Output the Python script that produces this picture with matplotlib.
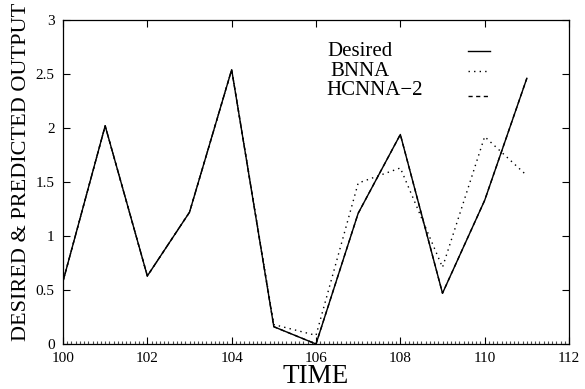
import matplotlib
matplotlib.use("Agg")
import matplotlib.pyplot as plt
import numpy as np
from matplotlib.ticker import MultipleLocator

plt.rcParams['font.family'] = ['Liberation Serif', 'DejaVu Serif']

time = [100, 101, 102, 103, 104, 105, 106, 107, 108, 109, 110, 111]
desired = [0.58, 2.02, 0.63, 1.22, 2.54, 0.16, 0.0, 1.21, 1.94, 0.47, 1.33, 2.46]
bnna = [0.58, 2.02, 0.63, 1.22, 2.54, 0.18, 0.08, 1.49, 1.63, 0.71, 1.92, 1.56]
hcnna2 = [0.58, 2.02, 0.63, 1.22, 2.54, 0.16, 0.0, 1.21, 1.94, 0.47, 1.33, 2.46]

labels = ["Desired", "BNNA", "HCNNA\u22122"]
xticks = [100, 102, 104, 106, 108, 110, 112]
yticks = [0, 0.5, 1, 1.5, 2, 2.5, 3]

fig = plt.figure(figsize=(5.85, 3.89), dpi=100)
ax = fig.add_axes([63/585, 1-344/389, 506/585, 324/389])

dotted = (0, (1, 3))
dashed = (0, (3, 2.5))
ax.plot(time, desired, color='black', lw=1.0, ls='-')
ax.plot(time, bnna, color='black', lw=1.0, ls=dotted)
ax.plot(time, hcnna2, color='black', lw=1.0, ls=dashed)

ax.set_xlim(100, 112)
ax.set_ylim(0, 3)
ax.set_xticks(xticks)
ax.set_xticklabels([str(t) for t in xticks])
ax.set_yticks(yticks)
ax.set_yticklabels([("%g" % v) for v in yticks])
ax.xaxis.set_minor_locator(MultipleLocator(0.1))
ax.tick_params(axis='both', which='major', direction='in', length=5, width=0.8,
               top=True, right=True, labelsize=11, pad=6)
ax.tick_params(axis='x', which='minor', direction='in', length=2, width=0.8,
               top=False, bottom=True, color='0.3')
for s in ax.spines.values():
    s.set_linewidth(0.9)

ax.set_xlabel("TIME", fontsize=19.5)
ax.xaxis.set_label_coords(0.5, -0.062)
ax.xaxis.label.set_va('top')
ax.set_ylabel("DESIRED & PREDICTED OUTPUT", fontsize=16)
ax.yaxis.set_label_coords(-0.063, 0.531)

# legend (manual, text left + line samples to the right)
ys_text = [0.904, 0.840, 0.781]
xs_text = [0.522, 0.528, 0.520]
ys_line = [0.904, 0.843, 0.765]
styles = ['-', dotted, dashed]
for lab, xt, yt, yl, st in zip(labels, xs_text, ys_text, ys_line, styles):
    ax.text(xt, yt, lab, transform=ax.transAxes, fontsize=15, va='center', ha='left')
    ax.plot([0.800, 0.844], [yl, yl], transform=ax.transAxes, color='black', lw=1.0, ls=st)

fig.savefig("out.png", dpi=100)
